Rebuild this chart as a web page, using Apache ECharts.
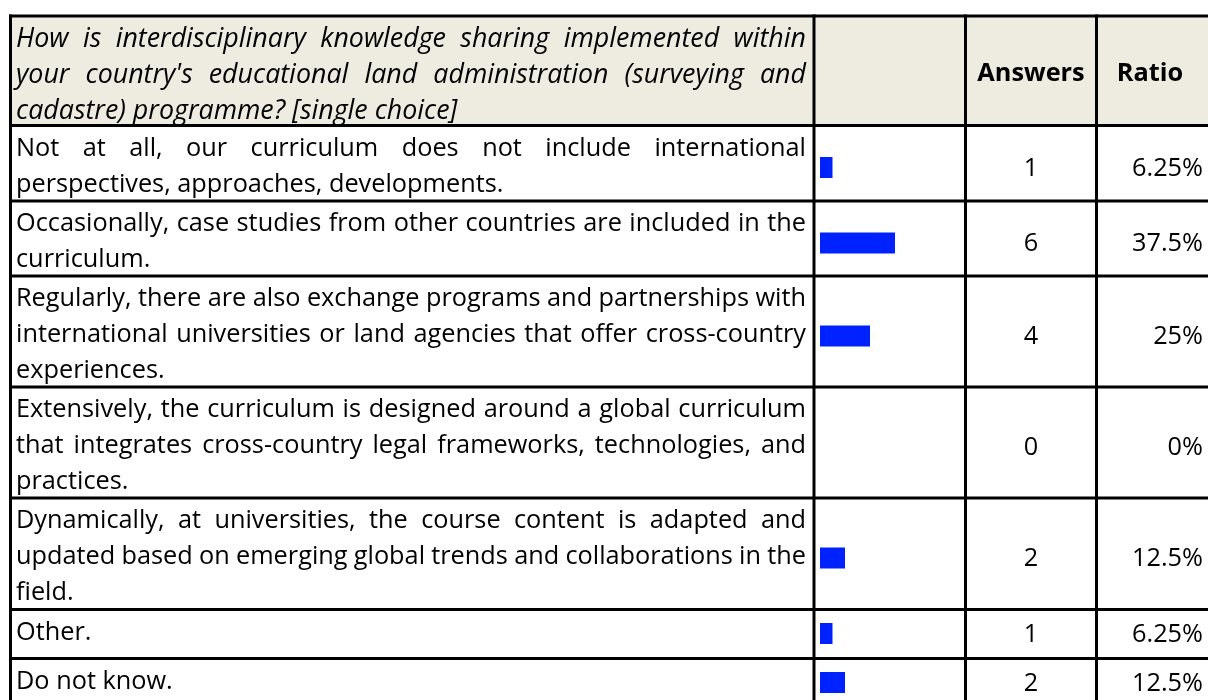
<!DOCTYPE html>
<html><head><meta charset="utf-8">
<script src="https://cdn.jsdelivr.net/npm/echarts@6/dist/echarts.min.js"></script>
<style>html,body{margin:0;padding:0;background:#fff;overflow:hidden}#c{width:1208px;height:700px}</style>
</head><body><div id="c"></div>
<script>
// ---- data ----
const question = "How is interdisciplinary knowledge sharing implemented within\nyour country's educational land administration (surveying and\ncadastre) programme? [single choice]";
const headers = ["Answers", "Ratio"];
const categories = [
  "Not at all, our curriculum does not include international\nperspectives, approaches, developments.",
  "Occasionally, case studies from other countries are included in the\ncurriculum.",
  "Regularly, there are also exchange programs and partnerships with\ninternational universities or land agencies that offer cross-country\nexperiences.",
  "Extensively, the curriculum is designed around a global curriculum\nthat integrates cross-country legal frameworks, technologies, and\npractices.",
  "Dynamically, at universities, the course content is adapted and\nupdated based on emerging global trends and collaborations in the\nfield.",
  "Other.",
  "Do not know."
];
const answers = [1, 6, 4, 0, 2, 1, 2];
const ratios = ["6.25%", "37.5%", "25%", "0%", "12.5%", "6.25%", "12.5%"];

// ---- layout ----
const FAMILY = '"Open Sans", "Noto Sans", sans-serif';
const FS = 25.3;
const FS_Q = 26.8;
const LINE_H = 36;
const FIRST_T = 23;
const colX = [10.5, 814, 965.5, 1096.5, 1210];
const headerTop = 16;
const rowLines = [125.5, 201, 276, 387, 498, 609.5, 658.5, 707];
const TEXT_L = 16, TEXT_R = 806;
const BAR_COLOR = '#0022ff';

const cv = document.createElement('canvas').getContext('2d');
function measure(t, font) { cv.font = font; return cv.measureText(t).width; }

const graphics = [];
graphics.push({ type: 'rect', shape: { x: colX[0], y: headerTop, width: colX[4] - colX[0], height: rowLines[0] - headerTop }, style: { fill: '#EEEBE0' }, silent: true, z: 0 });

function addParagraph(text, top, font) {
  const lines = text.split('\n');
  lines.forEach((ln, i) => {
    const y = top + FIRST_T + i * LINE_H;
    if (i < lines.length - 1) {
      const words = ln.split(' ');
      const widths = words.map(w => measure(w, font));
      const total = widths.reduce((a, b) => a + b, 0);
      const gap = (TEXT_R - TEXT_L - total) / (words.length - 1);
      let x = TEXT_L;
      words.forEach((w, k) => {
        graphics.push({ type: 'text', x: x, y: y, style: { text: w, font: font, fill: '#000', textAlign: 'left', textVerticalAlign: 'middle' }, silent: true, z: 5 });
        x += widths[k] + gap;
      });
    } else {
      graphics.push({ type: 'text', x: TEXT_L, y: y, style: { text: ln, font: font, fill: '#000', textAlign: 'left', textVerticalAlign: 'middle' }, silent: true, z: 5 });
    }
  });
  return top + 19 + (lines.length - 1) * LINE_H / 2; // block centre
}

addParagraph(question, headerTop, `italic normal ${FS_Q}px ${FAMILY}`);
const headMid = (headerTop + rowLines[0]) / 2 + 3;
graphics.push({ type: 'text', x: (colX[2] + colX[3]) / 2, y: headMid, style: { text: headers[0], font: `bold ${FS}px ${FAMILY}`, fill: '#000', textAlign: 'center', textVerticalAlign: 'middle' }, silent: true, z: 5 });
graphics.push({ type: 'text', x: 1150, y: headMid, style: { text: headers[1], font: `bold ${FS}px ${FAMILY}`, fill: '#000', textAlign: 'center', textVerticalAlign: 'middle' }, silent: true, z: 5 });

const grids = [], xAxes = [], yAxes = [], series = [];
categories.forEach((cat, i) => {
  const top = rowLines[i];
  const mid = addParagraph(cat, top, `normal normal ${FS}px ${FAMILY}`) + 5;
  graphics.push({ type: 'text', x: (colX[2] + colX[3]) / 2, y: mid + 1, style: { text: String(answers[i]), font: `${FS}px ${FAMILY}`, fill: '#000', textAlign: 'center', textVerticalAlign: 'middle' }, silent: true, z: 5 });
  graphics.push({ type: 'text', x: 1203, y: mid + 1, style: { text: ratios[i], font: `${FS}px ${FAMILY}`, fill: '#000', textAlign: 'right', textVerticalAlign: 'middle' }, silent: true, z: 5 });
  grids.push({ left: 820, top: mid - 10.5, width: 150, height: 21, containLabel: false });
  xAxes.push({ gridIndex: i, type: 'value', min: 0, max: 12, show: false });
  yAxes.push({ gridIndex: i, type: 'category', data: [cat], show: false });
  series.push({ type: 'bar', xAxisIndex: i, yAxisIndex: i, data: [answers[i]], barWidth: 21, itemStyle: { color: BAR_COLOR }, silent: true });
});

[headerTop].concat(rowLines).forEach(y => {
  graphics.push({ type: 'line', shape: { x1: colX[0] - 1.5, y1: y, x2: colX[4], y2: y }, style: { stroke: '#000', lineWidth: 3 }, silent: true, z: 10 });
});
colX.forEach(x => {
  graphics.push({ type: 'line', shape: { x1: x, y1: headerTop - 1.5, x2: x, y2: rowLines[rowLines.length - 1] }, style: { stroke: '#000', lineWidth: 3 }, silent: true, z: 10 });
});

const chart = echarts.init(document.getElementById('c'), null, { renderer: 'canvas' });
chart.setOption({
  animation: false,
  backgroundColor: '#fff',
  grid: grids, xAxis: xAxes, yAxis: yAxes, series: series,
  graphic: { elements: graphics }
});
</script></body></html>
